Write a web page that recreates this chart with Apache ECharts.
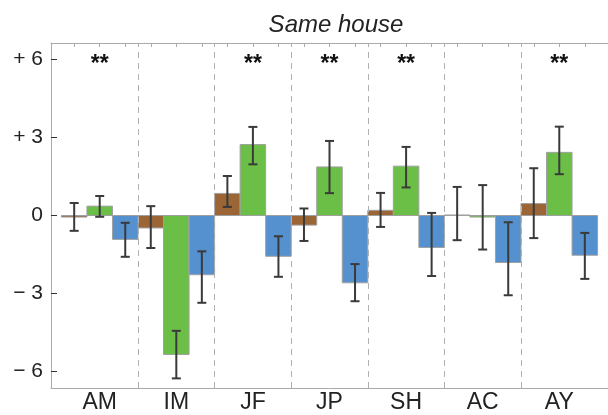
<!DOCTYPE html>
<html>
<head>
<meta charset="utf-8">
<script src="https://cdn.jsdelivr.net/npm/echarts@6/dist/echarts.min.js"></script>
<style>
  html, body { margin: 0; padding: 0; background: #fff; }
  #main { width: 608px; height: 415px; }
</style>
</head>
<body>
<div id="main"></div>
<script>
// groups on the x axis
const categories = ['AM', 'IM', 'JF', 'JP', 'SH', 'AC', 'AY'];
// bar heights, one array per colour
const brownVals = [-0.06, -0.48, 0.85, -0.37, 0.20, 0.02, 0.46];
const greenVals = [0.36, -5.35, 2.73, 1.87, 1.90, -0.06, 2.43];
const blueVals = [-0.92, -2.28, -1.57, -2.59, -1.23, -1.81, -1.53];
// error bar ends (low / high)
const brownLow = [-0.59, -1.25, 0.33, -0.98, -0.44, -0.95, -0.87];
const brownHigh = [0.48, 0.36, 1.52, 0.27, 0.87, 1.10, 1.82];
const greenLow = [-0.05, -6.27, 1.97, 0.86, 1.08, -1.31, 1.59];
const greenHigh = [0.75, -4.44, 3.41, 2.87, 2.64, 1.17, 3.42];
const blueLow = [-1.59, -3.36, -2.36, -3.30, -2.33, -3.07, -2.44];
const blueHigh = [-0.28, -1.38, -0.80, -1.87, 0.10, -0.26, -0.67];
// significance marks above the groups
const sigMarks = ['**', '', '**', '**', '**', '', '**'];
// y axis ticks
const yTicks = [-6, -3, 0, 3, 6];

const FONT = 'Liberation Sans, Arial, sans-serif';
const colors = ['#9b6535', '#6cbf46', '#5590cf'];
const series3 = [
  { vals: brownVals, low: brownLow, high: brownHigh },
  { vals: greenVals, low: greenLow, high: greenHigh },
  { vals: blueVals, low: blueLow, high: blueHigh }
];

// centre of each bar, for the top frame ticks
const barCentres = [];
categories.forEach((c, i) => { barCentres.push(i - 1 / 3, i, i + 1 / 3); });

function barRender (k) {
  return function (params, api) {
    const c = api.value(0) + (k - 1) / 3;
    const p0 = api.coord([c - 1 / 6, 0]);
    const p1 = api.coord([c + 1 / 6, api.value(1)]);
    return {
      type: 'rect',
      shape: {
        x: p0[0], y: Math.min(p0[1], p1[1]),
        width: p1[0] - p0[0], height: Math.abs(p1[1] - p0[1])
      },
      style: { fill: colors[k], stroke: '#a0a0a0', lineWidth: 1 }
    };
  };
}

function errRender (k) {
  return function (params, api) {
    const c = api.value(0) + (k - 1) / 3;
    const lo = api.coord([c, api.value(2)]);
    const hi = api.coord([c, api.value(3)]);
    const w = 4.5;
    const st = { stroke: '#3a3a3a', lineWidth: 2 };
    return {
      type: 'group',
      children: [
        { type: 'line', shape: { x1: lo[0], y1: lo[1], x2: hi[0], y2: hi[1] }, style: st },
        { type: 'line', shape: { x1: lo[0] - w, y1: lo[1], x2: lo[0] + w, y2: lo[1] }, style: st },
        { type: 'line', shape: { x1: hi[0] - w, y1: hi[1], x2: hi[0] + w, y2: hi[1] }, style: st }
      ]
    };
  };
}

const series = [];
series3.forEach((s, k) => {
  const data = s.vals.map((v, i) => [i, v, s.low[i], s.high[i]]);
  series.push({
    type: 'custom', name: 'bar' + k, z: 3, silent: true,
    renderItem: barRender(k), data: data
  });
});
series3.forEach((s, k) => {
  const data = s.vals.map((v, i) => [i, v, s.low[i], s.high[i]]);
  series.push({
    type: 'custom', name: 'err' + k, z: 4, silent: true,
    renderItem: errRender(k), data: data
  });
});

// stars + dashed group separators
const STAR_Y = 5.8;
series.push({
  type: 'custom', name: 'sig', z: 1, silent: true,
  data: sigMarks.map((m, i) => [i, STAR_Y]),
  renderItem: function (params, api) {
    const p = api.coord([api.value(0), api.value(1)]);
    return {
      type: 'text', x: p[0], y: p[1],
      style: {
        text: sigMarks[params.dataIndex], fill: '#111',
        font: 'bold 23px ' + FONT, align: 'center', verticalAlign: 'middle'
      }
    };
  },
  markLine: {
    silent: true, symbol: 'none', label: { show: false },
    lineStyle: { color: '#b0b0b0', width: 1, type: [6, 5] },
    data: categories.slice(1).map((c, i) => ({ xAxis: i + 0.5 }))
  }
});

const option = {
  animation: false,
  backgroundColor: '#fff',
  title: {
    text: 'Same house',
    left: 331, top: 8, textAlign: 'center',
    textStyle: { fontFamily: FONT, fontStyle: 'italic', fontWeight: 'normal', fontSize: 24, color: '#222' }
  },
  grid: { left: 51, right: -2, top: 43, bottom: 27 },
  xAxis: [
    {
      type: 'value', position: 'bottom', min: -0.636, max: 6.636,
      axisLine: { onZero: false, lineStyle: { color: '#aaa', width: 1 } },
      axisTick: { show: false },
      splitLine: { show: false },
      axisLabel: {
        customValues: categories.map((c, i) => i),
        formatter: v => categories[Math.round(v)],
        fontFamily: FONT, fontSize: 23, color: '#222', margin: 3
      }
    },
    {
      type: 'value', position: 'top', min: -0.636, max: 6.636,
      axisLine: { onZero: false, lineStyle: { color: '#aaa', width: 1 } },
      axisTick: { inside: true, length: 4, customValues: barCentres, lineStyle: { color: '#aaa' } },
      splitLine: { show: false },
      axisLabel: { show: false }
    }
  ],
  yAxis: {
    type: 'value', min: -6.64, max: 6.64,
    axisLine: { show: true, onZero: false, lineStyle: { color: '#aaa', width: 1 } },
    axisTick: { show: true, inside: true, length: 6, customValues: yTicks, lineStyle: { color: '#333' } },
    splitLine: { show: false },
    axisLabel: {
      customValues: yTicks,
      formatter: v => (v > 0 ? '+ ' + v : v < 0 ? '\u2212 ' + (-v) : '0'),
      fontFamily: FONT, fontSize: 21, color: '#222', margin: 8
    }
  },
  series: series
};

const chart = echarts.init(document.getElementById('main'));
chart.setOption(option);
</script>
</body>
</html>
